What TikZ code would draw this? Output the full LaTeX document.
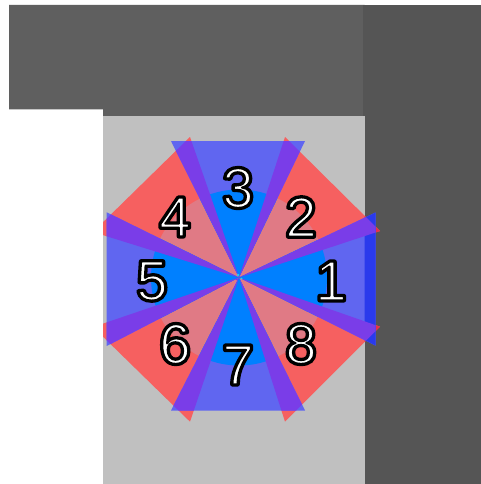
\documentclass[tikz,border=0pt]{standalone}
\usepackage{fontspec}
\setmainfont{Liberation Sans}
\definecolor{gA}{HTML}{C0C0C0}
\definecolor{dTop}{HTML}{5F5F5F}
\definecolor{dSide}{HTML}{555555}
\definecolor{redW}{HTML}{F66060}
\definecolor{pinkW}{HTML}{E07A85}
\definecolor{blueW}{HTML}{6066F0}
\definecolor{blueI}{HTML}{0080FF}
\definecolor{purpW}{HTML}{7A3DE8}
\definecolor{blueD}{HTML}{2A3AEC}
\definecolor{redD}{HTML}{E8304A}
\definecolor{cyanC}{HTML}{30D0E0}
\newcommand{\outl}[1]{\color{white}\rlap{\special{pdf:code 1 Tr 4.6 w 1 j 0 0 0 RG}#1\special{pdf:code 0 Tr}}\special{pdf:code 2 Tr 2 w 1 j 0 0 0 RG}#1\special{pdf:code 0 Tr}}
\tikzset{digit/.style={inner sep=0pt,font=\fontsize{56}{56}\selectfont}}
\def\redP{(239,277.5)--(285,137)--(380,231)--cycle (239,277.5)--(190,137)--(93,232)--cycle (239,277.5)--(93,327)--(190,421.7)--cycle (239,277.5)--(380,326.7)--(285,421.7)--cycle}
\def\blueP{(239,277.5)--(171,141)--(305,141)--cycle (239,277.5)--(375.5,212.5)--(375.5,345.5)--cycle (239,277.5)--(106.7,212.3)--(106.7,346)--cycle (239,277.5)--(171,410.5)--(305,410.5)--cycle}
\def\discP{(239,277.5) circle (88)}
\begin{document}
\begin{tikzpicture}[x=1pt,y=-1pt]
\useasboundingbox (0,0) rectangle (481,484);
\fill[white] (0,0) rectangle (481,484);
\fill[dTop] (9,5) -- (364.7,5) -- (364.7,116.3) -- (103,116.3) -- (103,109.3) -- (9,109.3) -- cycle;
\fill[dSide] (363.4,5) rectangle (481,484);
\fill[gA] (103,116.3) rectangle (364.7,484);
% red wedges, hidden left of the grey area
\begin{scope}
\clip (103,0) rectangle (481,484);
\fill[redW] \redP;
\begin{scope}
\clip (364.7,0) rectangle (481,484);
\fill[redD] \redP;
\end{scope}
\begin{scope}
\clip \discP;
\fill[pinkW] \redP;
\end{scope}
\end{scope}
% blue wedges
\fill[blueW] \blueP;
\begin{scope}
\clip (364.7,0) rectangle (481,484);
\fill[blueD] \blueP;
\end{scope}
\begin{scope}
\clip \discP;
\fill[blueI] \blueP;
\end{scope}
% overlaps: each red wedge against the blue wedges
\begin{scope}
\clip (103,0) rectangle (481,484);
\begin{scope}
\clip (239,277.5)--(285,137)--(380,231)--cycle;
\fill[purpW] \blueP;
\end{scope}
\begin{scope}
\clip (239,277.5)--(190,137)--(93,232)--cycle;
\fill[purpW] \blueP;
\end{scope}
\begin{scope}
\clip (239,277.5)--(93,327)--(190,421.7)--cycle;
\fill[purpW] \blueP;
\end{scope}
\begin{scope}
\clip (239,277.5)--(380,326.7)--(285,421.7)--cycle;
\fill[purpW] \blueP;
\end{scope}
\end{scope}
% small glints at the hub
\fill[cyanC] (238,275) circle (1.3);
\fill[cyanC] (241.5,278.7) circle (1);
\fill[purpW] (237,279.5) circle (1.2);
\node[digit] (n1) at (331,281) {\outl{1}};
\node[digit] (n2) at (301,217) {\outl{2}};
\node[digit] (n3) at (238,188) {\outl{3}};
\node[digit] (n4) at (175,217) {\outl{4}};
\node[digit] (n5) at (152,281) {\outl{5}};
\node[digit] (n6) at (175,344) {\outl{6}};
\node[digit] (n7) at (238,365) {\outl{7}};
\node[digit] (n8) at (301,344) {\outl{8}};
\end{tikzpicture}
\end{document}
